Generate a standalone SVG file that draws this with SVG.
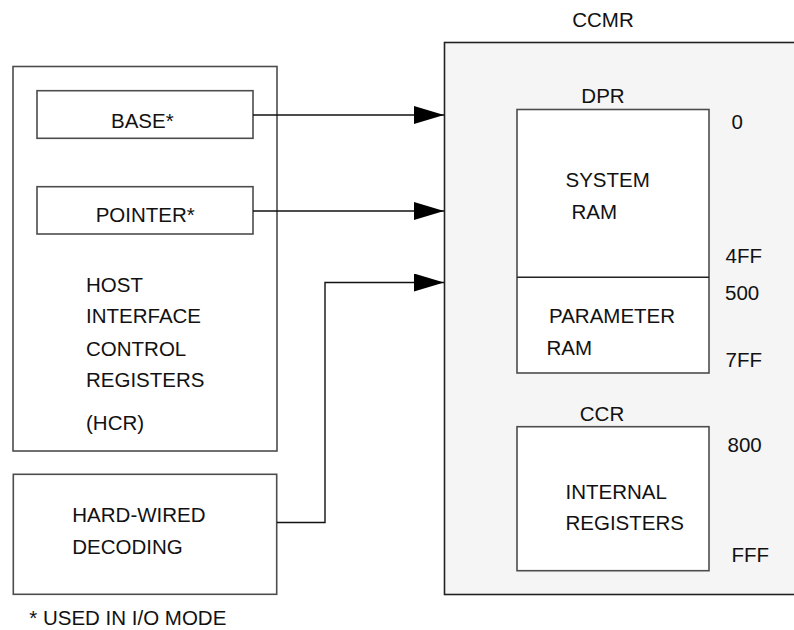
<svg xmlns="http://www.w3.org/2000/svg" width="794" height="630" viewBox="0 0 794 630">
<style>
text{font-family:"Liberation Sans",Arial,sans-serif;font-size:20.5px;fill:#111}
.box{fill:#fff;stroke:#4d4d4d;stroke-width:1.6}
.outer{fill:#f5f5f5;stroke:#222;stroke-width:1.6}
.conn{fill:none;stroke:#111;stroke-width:1.4}
.c{text-anchor:middle}
</style>
<defs>
<marker id="arr" markerUnits="userSpaceOnUse" markerWidth="31" markerHeight="18" refX="30" refY="9" orient="auto">
<path d="M0,0 L30,9 L0,18 Z" fill="#000"/>
</marker>
</defs>
<rect width="794" height="630" fill="#fff"/>
<g id="ccmr">
<rect class="outer" x="444.5" y="42.5" width="360" height="552"/>
<text class="c" x="603" y="27">CCMR</text>
</g>
<g id="dpr">
<rect class="box" x="517" y="109.5" width="192" height="263.5"/>
<line x1="517" y1="277.3" x2="709" y2="277.3" stroke="#222" stroke-width="1.6"/>
<text class="c" x="603" y="103">DPR</text>
<text x="565.5" y="186.5">SYSTEM</text>
<text x="571.5" y="219">RAM</text>
<text x="549" y="322.5">PARAMETER</text>
<text x="546.5" y="355">RAM</text>
<text x="731.5" y="129">0</text>
<text x="725.5" y="263">4FF</text>
<text x="725" y="300">500</text>
<text x="725.5" y="366.5">7FF</text>
</g>
<g id="ccr">
<rect class="box" x="517" y="426.7" width="192" height="144"/>
<text class="c" x="602" y="420.5">CCR</text>
<text x="565.5" y="499">INTERNAL</text>
<text x="565.5" y="530">REGISTERS</text>
<text x="727.5" y="451.5">800</text>
<text x="731.5" y="562">FFF</text>
</g>
<g id="hcr">
<rect class="box" x="13" y="66.5" width="264" height="384.5"/>
<text x="86" y="292.3">HOST</text>
<text x="86" y="323.3">INTERFACE</text>
<text x="86" y="355.5">CONTROL</text>
<text x="86" y="387.3">REGISTERS</text>
<text x="86" y="430">(HCR)</text>
</g>
<g id="base">
<rect class="box" x="37" y="90.7" width="216" height="47.6"/>
<text x="111" y="128.3">BASE*</text>
</g>
<g id="pointer">
<rect class="box" x="37" y="186.7" width="216" height="47.3"/>
<text x="95.7" y="221.7">POINTER*</text>
</g>
<g id="hardwired">
<rect class="box" x="13.3" y="474.3" width="263.4" height="120"/>
<text x="72.3" y="522.3">HARD-WIRED</text>
<text x="72.3" y="554.3">DECODING</text>
</g>
<g id="note">
<text x="29.3" y="625">* USED IN I/O MODE</text>
</g>
<g id="connectors">
<path class="conn" d="M253,115 H444" marker-end="url(#arr)"/>
<path class="conn" d="M253,211 H444" marker-end="url(#arr)"/>
<path class="conn" d="M277,522.5 H325 V282.5 H444" marker-end="url(#arr)"/>
</g>
</svg>
